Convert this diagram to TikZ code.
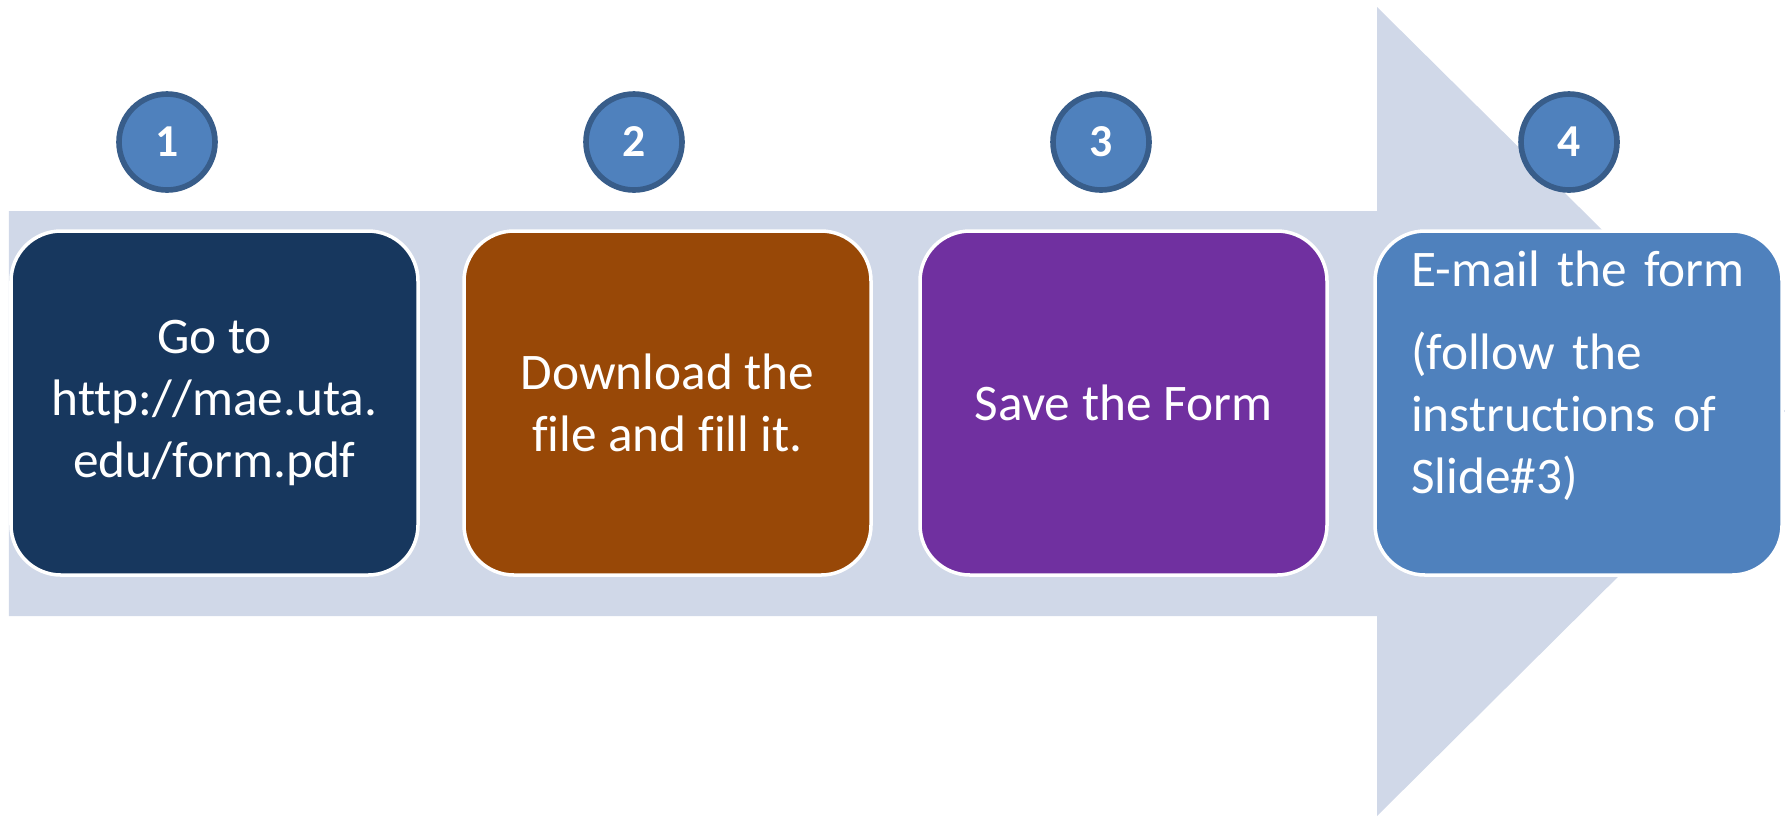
\documentclass[tikz,border=0pt]{standalone}
\usepackage{fontspec}
\setmainfont{Carlito}[RawFeature={-liga}]
\definecolor{shaftgray}{HTML}{D0D8E8}
\definecolor{stepnavy}{HTML}{17375E}
\definecolor{stepbrown}{HTML}{984807}
\definecolor{steppurple}{HTML}{7030A0}
\definecolor{stepblue}{HTML}{4F81BD}
\definecolor{numedge}{HTML}{385D8A}
\newcommand{\boxfont}{\fontsize{14.6}{17.6}\selectfont}

\begin{document}
\begin{tikzpicture}
    \tikzstyle{stepbox}=[draw=white, line width=1pt, rounded corners=0.5cm,
                         minimum width=4.07cm, minimum height=3.44cm,
                         text=white, font=\boxfont]
    \tikzstyle{numdot}=[circle, draw=numedge, line width=1.6pt, fill=stepblue,
                        minimum size=0.96cm, inner sep=0pt, text=white,
                        font=\bfseries\fontsize{13}{15}\selectfont]
    \useasboundingbox (0,0) rectangle (17.85,-8.16);

    % the big arrow behind the steps
    \fill[shaftgray] (0.09,-2.11) -- (13.77,-2.11) -- (13.77,-0.07) -- (17.85,-4.11)
                     -- (13.77,-8.16) -- (13.77,-6.16) -- (0.09,-6.16) -- cycle;

    % steps
    \node[stepbox, fill=stepnavy, align=center] (goto) at (2.145,-4.03)
        {Go to\\http://mae.uta.\\edu/form.pdf};
    \node[stepbox, fill=stepbrown, align=center] (download) at (6.675,-4.03)
        {Download the\\file and fill it.};
    \node[stepbox, fill=steppurple, align=center] (save) at (11.235,-4.03)
        {Save the Form};
    \node[stepbox, fill=stepblue, text width=3.35cm, align=left] (email) at (15.785,-4.03)
        {E-mail the form\\[6pt](follow the\\instructions of\\Slide\#3)\\ \mbox{}};

    % numbers
    \node[numdot] (n1) at (1.67,-1.42) {1};
    \node[numdot] (n2) at (6.34,-1.42) {2};
    \node[numdot] (n3) at (11.01,-1.42) {3};
    \node[numdot] (n4) at (15.69,-1.42) {4};
\end{tikzpicture}
\end{document}
